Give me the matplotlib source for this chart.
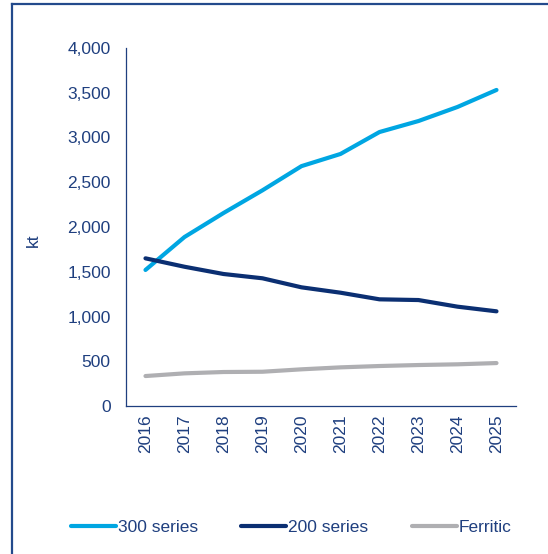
import matplotlib.pyplot as plt
from matplotlib.lines import Line2D

years = ["2016", "2017", "2018", "2019", "2020", "2021", "2022", "2023", "2024", "2025"]
series_300 = [1520, 1888, 2156, 2410, 2680, 2816, 3061, 3184, 3341, 3531]
series_200 = [1650, 1556, 1475, 1427, 1326, 1266, 1192, 1184, 1110, 1058]
ferritic = [335, 365, 380, 383, 410, 432, 447, 458, 466, 480]

navy = "#1F3F7F"

plt.rcParams["font.family"] = ["Liberation Sans", "DejaVu Sans"]

fig = plt.figure(figsize=(5.48, 5.54), dpi=100)
ax = fig.add_axes([0.2299, 0.2671, 0.7117, 0.6463])

x = range(len(years))
ax.plot(x, series_300, color="#00A6E2", lw=3, solid_capstyle="round", label="300 series")
ax.plot(x, series_200, color="#0B2F72", lw=3, solid_capstyle="round", label="200 series")
ax.plot(x, ferritic, color="#AFAFB2", lw=3, solid_capstyle="round", label="Ferritic")

ax.set_xlim(-0.5, len(years) - 0.5)
ax.set_ylim(0, 4000)
ax.set_yticks(range(0, 4001, 500))
ax.set_yticklabels([f"{v:,}" for v in range(0, 4001, 500)])
ax.set_xticks(list(x))
ax.set_xticklabels(years, rotation=90)
ax.tick_params(length=0, colors=navy, labelsize=12.5)
ax.tick_params(axis="y", pad=11)
ax.tick_params(axis="x", pad=6)
for s in ["top", "right"]:
    ax.spines[s].set_visible(False)
for s in ["left", "bottom"]:
    ax.spines[s].set_color(navy)
    ax.spines[s].set_linewidth(0.9)

fig.text(0.06, 0.567, "kt", rotation=90, color=navy, fontsize=12.5, ha="center", va="center")

fig.legend(loc="center", bbox_to_anchor=(0.531, 0.0487), ncol=3, frameon=False,
           fontsize=12.5, labelcolor=navy, handlelength=2.6, handletextpad=0.1,
           columnspacing=2.5)

# outer frame
fig.add_artist(Line2D([12 / 548, 12 / 548], [0, 1 - 4 / 554], color="#234A8C", lw=1.6,
                      transform=fig.transFigure))
fig.add_artist(Line2D([12 / 548, 1], [1 - 4 / 554, 1 - 4 / 554], color="#234A8C", lw=1.6,
                      transform=fig.transFigure))

fig.savefig("out.png", dpi=100)
